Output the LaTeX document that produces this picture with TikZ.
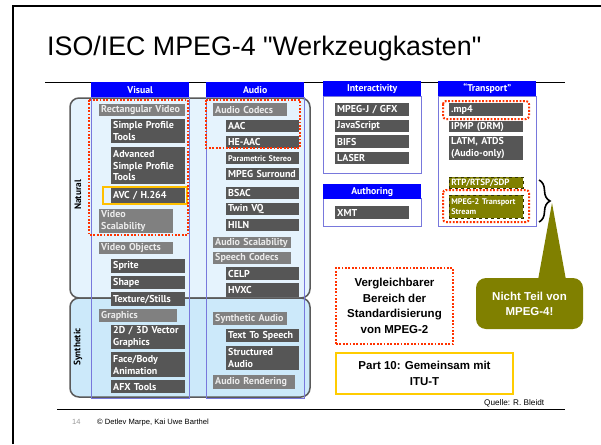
\documentclass[tikz,border=0pt]{standalone}
\usepackage{fontspec}
\setmainfont{Liberation Sans}
\newfontfamily\boxfam{PT Sans}
\font\titlefnt="Liberation Sans" at 26.8pt
\usetikzlibrary{decorations.pathreplacing}
\definecolor{hblue}{RGB}{0,0,255}
\definecolor{colline}{RGB}{120,120,220}
\definecolor{dkgray}{RGB}{86,86,86}
\definecolor{ltgray}{RGB}{128,128,128}
\definecolor{natfill}{RGB}{229,243,253}
\definecolor{synfill}{RGB}{204,233,250}
\definecolor{rimgray}{RGB}{90,90,90}
\definecolor{dotred}{RGB}{255,51,0}
\definecolor{avcyellow}{RGB}{255,192,0}
\definecolor{olivec}{RGB}{128,128,0}
\definecolor{partyellow}{RGB}{255,204,0}
\tikzset{
  bx/.style={anchor=north west, inner xsep=2pt, inner ysep=0pt, align=left,
    font=\boxfam\bfseries\fontsize{10}{11.8}\selectfont, text=white, minimum height=13pt},
  dk/.style={bx, fill=dkgray, text width=70pt},
  dka/.style={bx, fill=dkgray, text width=69pt},
  lt/.style={bx, fill=ltgray, text=white!92!black},
  ol/.style={bx, fill=olivec, draw=black!60!olivec, dashed, line width=0.5pt, text width=70pt},
  hdr/.style={anchor=north west, fill=hblue, text=white, inner sep=0pt, minimum width=98pt,
    minimum height=15pt, font=\boxfam\bfseries\fontsize{9.8}{11}\selectfont},
  colbox/.style={draw=colline, line width=0.8pt},
  reddot/.style={draw=dotred, line width=2pt, dash pattern=on 1.8pt off 1.6pt},
  bigtxt/.style={font=\bfseries\fontsize{11.5}{15.5}\selectfont, align=center},
}
\begin{document}
\begin{tikzpicture}[x=1pt,y=-1pt]
\useasboundingbox (0,0) rectangle (601,444);
\fill[white] (0,0) rectangle (601,444);
% frame
\draw[line width=2pt] (13,444) -- (13,6) -- (601,6);
% title
\node[anchor=base west, inner sep=0pt, font=\titlefnt] (title) at (47,56) {ISO/IEC MPEG-4 "Werkzeugkasten"};
\draw[line width=0.9pt] (45,82) -- (565,82);
% natural / synthetic
\draw[rimgray, line width=1.5pt, fill=natfill, rounded corners=9pt] (70,98) rectangle (310,298);
\draw[rimgray, line width=1.5pt, fill=synfill, rounded corners=9pt] (70,298) rectangle (310,397);
\node[rotate=90, font=\boxfam\bfseries\fontsize{9.3}{10}\selectfont] (natural) at (78,195) {Natural};
\node[rotate=90, font=\boxfam\bfseries\fontsize{9.3}{10}\selectfont] (synthetic) at (78,347) {Synthetic};
% columns
\draw[colbox] (91,97) rectangle (189,398);
\draw[colbox] (206,97) rectangle (304,398);
\node[hdr] (hvis) at (91,82) {Visual};
\node[hdr] (haud) at (206,82) {Audio};
\draw[colbox, fill=white] (323,96) rectangle (421,173);
\node[hdr] (hint) at (323,81) {Interactivity};
\draw[colbox, fill=white] (323,198) rectangle (421,226);
\node[hdr] (haut) at (323,184) {Authoring};
\draw[colbox, fill=white] (438,96) rectangle (536,226);
\node[hdr] (htra) at (438,81) {“Transport”};
% visual
\node[lt, text width=82pt, minimum height=12pt] (rv) at (99,104) {Rectangular Video};
\node[dk, minimum height=24pt] (spt) at (111,119) {Simple Profile\\Tools};
\node[dk, minimum height=37pt] (aspt) at (111,147) {Advanced\\Simple Profile\\Tools};
\node[dk, minimum height=15pt] (avc) at (111,188) {AVC / H.264};
\node[lt, text width=70pt, minimum height=24pt] (vs) at (99,209) {Video\\Scalability};
\node[lt, text width=70pt, minimum height=12pt] (vo) at (99,242) {Video Objects};
\node[dk, minimum height=14pt] (sprite) at (111,259) {Sprite};
\node[dk, minimum height=13pt] (shape) at (111,276) {Shape};
\node[dk, minimum height=14pt] (tex) at (111,292) {Texture/Stills};
\node[lt, text width=74pt, minimum height=13pt] (gfx) at (99,309) {Graphics};
\node[dk, minimum height=24pt] (v2d) at (111,325) {2D / 3D Vector\\Graphics};
\node[dk, minimum height=25pt] (face) at (111,352) {Face/Body\\Animation};
\node[dk, minimum height=13pt] (afx) at (111,380) {AFX Tools};
% audio
\node[lt, text width=70pt, minimum height=13pt] (ac) at (213,103) {Audio Codecs};
\node[dka, minimum height=12pt] (aac) at (226,120) {AAC};
\node[dka, minimum height=12pt] (heaac) at (226,136) {HE-AAC};
\node[dka, minimum height=12pt, font=\boxfam\bfseries\fontsize{8.2}{9}\selectfont] (ps) at (226,152) {Parametric Stereo};
\node[dka, minimum height=12pt] (mps) at (226,168) {MPEG Surround};
\node[dka, minimum height=12pt] (bsac) at (226,187) {BSAC};
\node[dka, minimum height=12pt] (tvq) at (226,203) {Twin VQ};
\node[dka, minimum height=12pt] (hiln) at (226,219) {HILN};
\node[lt, text width=74pt, minimum height=11pt] (as) at (213,237) {Audio Scalability};
\node[lt, text width=74pt, minimum height=12pt] (sc) at (213,252) {Speech Codecs};
\node[dka, minimum height=13pt] (celp) at (226,267) {CELP};
\node[dka, minimum height=14pt] (hvxc) at (226,283) {HVXC};
\node[lt, text width=70pt, minimum height=13pt] (sa) at (213,312) {Synthetic Audio};
\node[dka, minimum height=13pt] (tts) at (226,329) {Text To Speech};
\node[dka, minimum height=24pt] (stra) at (226,346) {Structured\\Audio};
\node[lt, text width=78pt, minimum height=14pt] (ar) at (213,375) {Audio Rendering};
% interactivity
\node[dk] (mpegj) at (335,103) {MPEG-J / GFX};
\node[dk, minimum height=12pt] (js) at (335,120) {JavaScript};
\node[dk] (bifs) at (335,135) {BIFS};
\node[dk, minimum height=12pt] (laser) at (335,152) {LASER};
\node[dk] (xmt) at (335,206) {XMT};
% transport
\node[dk] (mp4) at (449,103) {.mp4};
\node[dk, minimum height=11pt] (ipmp) at (449,121) {IPMP (DRM)};
\node[dk, minimum height=24pt] (latm) at (449,136) {LATM, ATDS\\(Audio-only)};
\node[ol, minimum height=11pt, font=\boxfam\bfseries\fontsize{9}{10}\selectfont] (rtp) at (449,177) {RTP/RTSP/SDP};
\node[ol, minimum height=23pt, font=\boxfam\bfseries\fontsize{8.2}{10}\selectfont] (ts) at (449,195) {MPEG-2 Transport\\Stream};
% highlights
\draw[avcyellow, line width=1.8pt] (103,187) rectangle (187,204);
\draw[reddot] (89,100) rectangle (188,235);
\draw[reddot] (206,100) rectangle (300,148);
\draw[reddot, rounded corners=3pt] (443,101) rectangle (529,119);
\draw[reddot, rounded corners=3pt] (443,190) rectangle (529,222);
% brace and callout
\coordinate (bt) at (539,180);
\coordinate (bb) at (539,222);
\draw[line width=1.6pt, decorate, decoration={brace, amplitude=11pt}] (bt) -- (bb);
\fill[olivec, rounded corners=10pt] (476,278) rectangle (583,329);
\fill[olivec] (552,203) -- (538,280) -- (566,280) -- cycle;
\node[bigtxt, text=white] (nicht) at (529.5,304) {Nicht Teil von\\MPEG-4!};
% notes
\node[reddot, bigtxt, minimum width=117pt, minimum height=76pt, inner sep=0pt] (vgl) at (394.5,306)
  {Vergleichbarer\\Bereich der\\Standardisierung\\von MPEG-2};
\node[draw=partyellow, line width=2pt, bigtxt, minimum width=177pt, minimum height=41pt, inner sep=0pt] (part) at (424.5,373.5)
  {Part 10: Gemeinsam mit\\ITU-T};
\node[anchor=base west, inner sep=0pt, font=\fontsize{8.2}{10}\selectfont] (quelle) at (484,405) {Quelle: R. Bleidt};
% footer
\draw[line width=0.9pt] (57,409) -- (565,409);
\node[anchor=base west, inner sep=0pt, text=black!40, font=\fontsize{7.5}{9}\selectfont] (pg) at (72,424) {14};
\node[anchor=base west, inner sep=0pt, font=\fontsize{7.6}{9}\selectfont] (copy) at (97,424) {© Detlev Marpe, Kai Uwe Barthel};
\end{tikzpicture}
\end{document}
